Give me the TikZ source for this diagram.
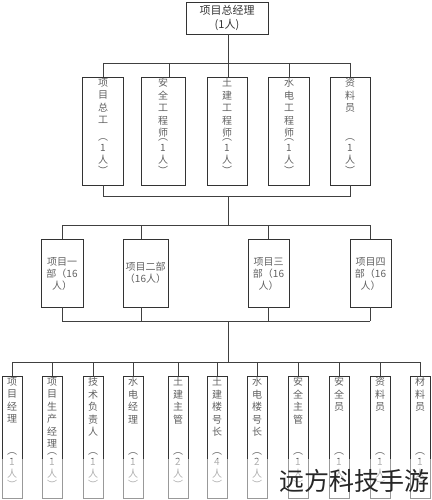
\documentclass[tikz,border=0pt]{standalone}
\usepackage{fontspec}
\setmainfont{Noto Sans CJK SC}
\begin{document}
\begin{tikzpicture}[x=1pt,y=-1pt,
  box/.style={draw=black!80,line width=0.9pt,inner sep=0pt},
  wire/.style={draw=black!75,line width=0.8pt},
  vt/.style={inner sep=0pt,align=center,text=black!62,font=\fontsize{10}{12.5}\selectfont},
  ct/.style={inner sep=0pt,align=center,text=black!62,font=\fontsize{10}{11.5}\selectfont},
  ht/.style={inner sep=0pt,align=center,text=black!62,font=\fontsize{10}{12}\selectfont},
  toptxt/.style={inner sep=0pt,align=center,text=black!80,font=\fontsize{11}{14}\selectfont}]
\useasboundingbox (0,0) rectangle (431,500);

% level 1
\node[box,minimum width=82pt,minimum height=32pt] (gm) at (227,18) {};
\node[toptxt] (gmt) at (227,18) {项目总经理\\(1人)};

% level 2 boxes
\node[box,minimum width=41pt,minimum height=108pt] (n1) at (102.5,131) {};
\node[box,minimum width=44pt,minimum height=108pt] (n2) at (163,131) {};
\node[box,minimum width=40pt,minimum height=108pt] (n3) at (227,131) {};
\node[box,minimum width=41pt,minimum height=108pt] (n4) at (288.5,131) {};
\node[box,minimum width=40pt,minimum height=108pt] (n5) at (350,131) {};
\node[vt,anchor=north] (n1t) at (103,78) {项\\目\\总\\工};
\node[vt,anchor=north] (n2t) at (163,78) {安\\全\\工\\程\\师};
\node[vt,anchor=north] (n3t) at (227,78) {土\\建\\工\\程\\师};
\node[vt,anchor=north] (n4t) at (289,78) {水\\电\\工\\程\\师};
\node[vt,anchor=north] (n5t) at (350,78) {资\\料\\员};
\foreach \x/\n in {103/1,163/2,227/3,289/4,350/5}{
  \node[ct,anchor=north] (n\n c) at (\x,138) {︵\\1\\人\\︶};
}

% level 1 -> level 2
\coordinate (h1l) at (103,63);
\coordinate (h1r) at (350,63);
\coordinate (k2) at (169,63);
\coordinate (k3) at (228,63);
\coordinate (k4) at (289,63);
\draw[wire] (gm.south -| k3) -- (k3);
\draw[wire] (h1l) -- (h1r);
\draw[wire] (h1l) -- (h1l |- n1.north);
\draw[wire] (k2) -- (k2 |- n2.north);
\draw[wire] (k3) -- (k3 |- n3.north);
\draw[wire] (k4) -- (k4 |- n4.north);
\draw[wire] (h1r) -- (h1r |- n5.north);

% level 2 bottom bar
\coordinate (b1l) at (103,196);
\coordinate (b1r) at (350,196);
\coordinate (b1m) at (228,196);
\draw[wire] (b1l |- n1.south) -- (b1l) -- (b1r) -- (b1r |- n5.south);

% level 3
\coordinate (h2l) at (62,225);
\coordinate (h2r) at (370,225);
\coordinate (h2m) at (228,225);
\draw[wire] (b1m) -- (h2m);
\draw[wire] (h2l) -- (h2r);
\node[box,minimum width=42pt,minimum height=68pt] (m1) at (62,273) {};
\node[box,minimum width=45pt,minimum height=68pt] (m2) at (145.5,273) {};
\node[box,minimum width=41pt,minimum height=68pt] (m3) at (268.5,273) {};
\node[box,minimum width=41pt,minimum height=68pt] (m4) at (370.5,273) {};
\node[ht] (m1t) at (62,274) {项目一\\部（16\\人）};
\node[ht] (m2t) at (145.5,273) {项目二部\\（16人）};
\node[ht] (m3t) at (268.5,274) {项目三\\部（16\\人）};
\node[ht] (m4t) at (370.5,274) {项目四\\部（16\\人）};
\coordinate (g1) at (62,225);
\coordinate (g2) at (141,225);
\coordinate (g3) at (268,225);
\coordinate (g4) at (370,225);
\draw[wire] (g1) -- (g1 |- m1.north);
\draw[wire] (g2) -- (g2 |- m2.north);
\draw[wire] (g3) -- (g3 |- m3.north);
\draw[wire] (g4) -- (g4 |- m4.north);

\coordinate (h3l) at (62,321);
\coordinate (h3r) at (370,321);
\coordinate (h3m) at (228,321);
\coordinate (e2) at (141,321);
\coordinate (e3) at (268,321);
\draw[wire] (h3l) -- (h3r);
\draw[wire] (m1.south) -- (h3l);
\draw[wire] (e2 |- m2.south) -- (e2);
\draw[wire] (e3 |- m3.south) -- (e3);
\draw[wire] (h3r |- m4.south) -- (h3r);

% level 4
\coordinate (h4l) at (12,362);
\coordinate (h4r) at (420,362);
\coordinate (h4m) at (228,362);
\draw[wire] (h3m) -- (h4m);
\draw[wire] (h4l) -- (h4r);
\foreach \x/\n/\t/\c in {
  12/1/{项\\目\\经\\理}/1,
  52/2/{项\\目\\生\\产\\经\\理}/1,
  93/3/{技\\术\\负\\责\\人}/1,
  133/4/{水\\电\\经\\理}/1,
  178/5/{土\\建\\主\\管}/2,
  217/6/{土\\建\\楼\\号\\长}/4,
  257/7/{水\\电\\楼\\号\\长}/2,
  298/8/{安\\全\\主\\管}/1,
  339/9/{安\\全\\员}/1,
  380/10/{资\\料\\员}/1,
  420/11/{材\\料\\员}/1}{
  \node[box,minimum width=20pt,minimum height=122pt] (p\n) at (\x,437) {};
  \draw[wire] (p\n.north |- h4l) -- (p\n.north);
  \node[vt,anchor=north] (p\n t) at (\x,377) {\t};
  \node[ct,anchor=north] (p\n c) at (\x,452) {︵\\\c\\人\\︶};
}
\fill[white,opacity=0.5] (0,459) rectangle (431,500);

% watermark
\node[inner sep=0pt,text=black!85,font=\fontsize{25}{25}\selectfont] (wm) at (354,481) {远方科技手游};
\end{tikzpicture}
\end{document}
